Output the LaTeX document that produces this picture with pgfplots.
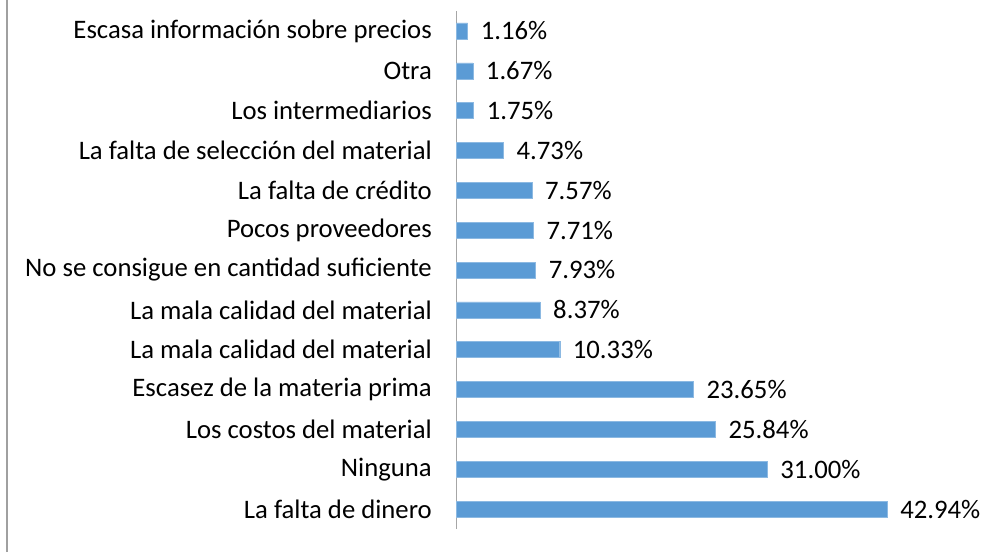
\documentclass[border=0pt]{standalone}
\usepackage{pgfplots}
\pgfplotsset{compat=1.18}
\usepackage{fontspec}
\setmainfont{Carlito}
\definecolor{barblue}{HTML}{5B9BD5}
\definecolor{axgray}{HTML}{A6A6A6}
\definecolor{framegray}{HTML}{A0A0A0}
\begin{document}
\begin{tikzpicture}[x=1pt,y=1pt]
\useasboundingbox (0,0) rectangle (981,552);
\draw[framegray, line width=2pt] (7,0) -- (7,552);
\begin{axis}[
  at={(456pt,23pt)}, anchor=south west,
  scale only axis, width=502pt, height=518pt,
  xmin=0, xmax=50, ymin=-0.5, ymax=12.5,
  axis x line=none,
  axis y line*=left,
  y axis line style={axgray, line width=1pt, -},
  ytick={0,...,12},
  ytick style={draw=none},
  major tick length=0pt,
  yticklabels={La falta de dinero, Ninguna, Los costos del material, Escasez de la materia prima, La mala calidad del material, La mala calidad del material, No se consigue en cantidad suficiente, Pocos proveedores, La falta de crédito, La falta de selección del material, Los intermediarios, Otra, Escasa información sobre precios},
  yticklabel style={font=\fontsize{26.7}{30}\selectfont, inner sep=0pt, anchor=east, xshift=-24pt},
  xbar, bar width=16pt,
  point meta=explicit symbolic,
  nodes near coords,
  nodes near coords style={font=\fontsize{26.7}{30}\selectfont, inner sep=0pt, anchor=west, xshift=13pt},
  clip=false,
]
\addplot[fill=barblue, draw=barblue!70!white] coordinates {
(42.94,0) [42.94\%]
(31.00,1) [31.00\%]
(25.84,2) [25.84\%]
(23.65,3) [23.65\%]
(10.33,4) [10.33\%]
(8.37,5) [8.37\%]
(7.93,6) [7.93\%]
(7.71,7) [7.71\%]
(7.57,8) [7.57\%]
(4.73,9) [4.73\%]
(1.75,10) [1.75\%]
(1.67,11) [1.67\%]
(1.16,12) [1.16\%]
};
\end{axis}
\end{tikzpicture}
\end{document}
